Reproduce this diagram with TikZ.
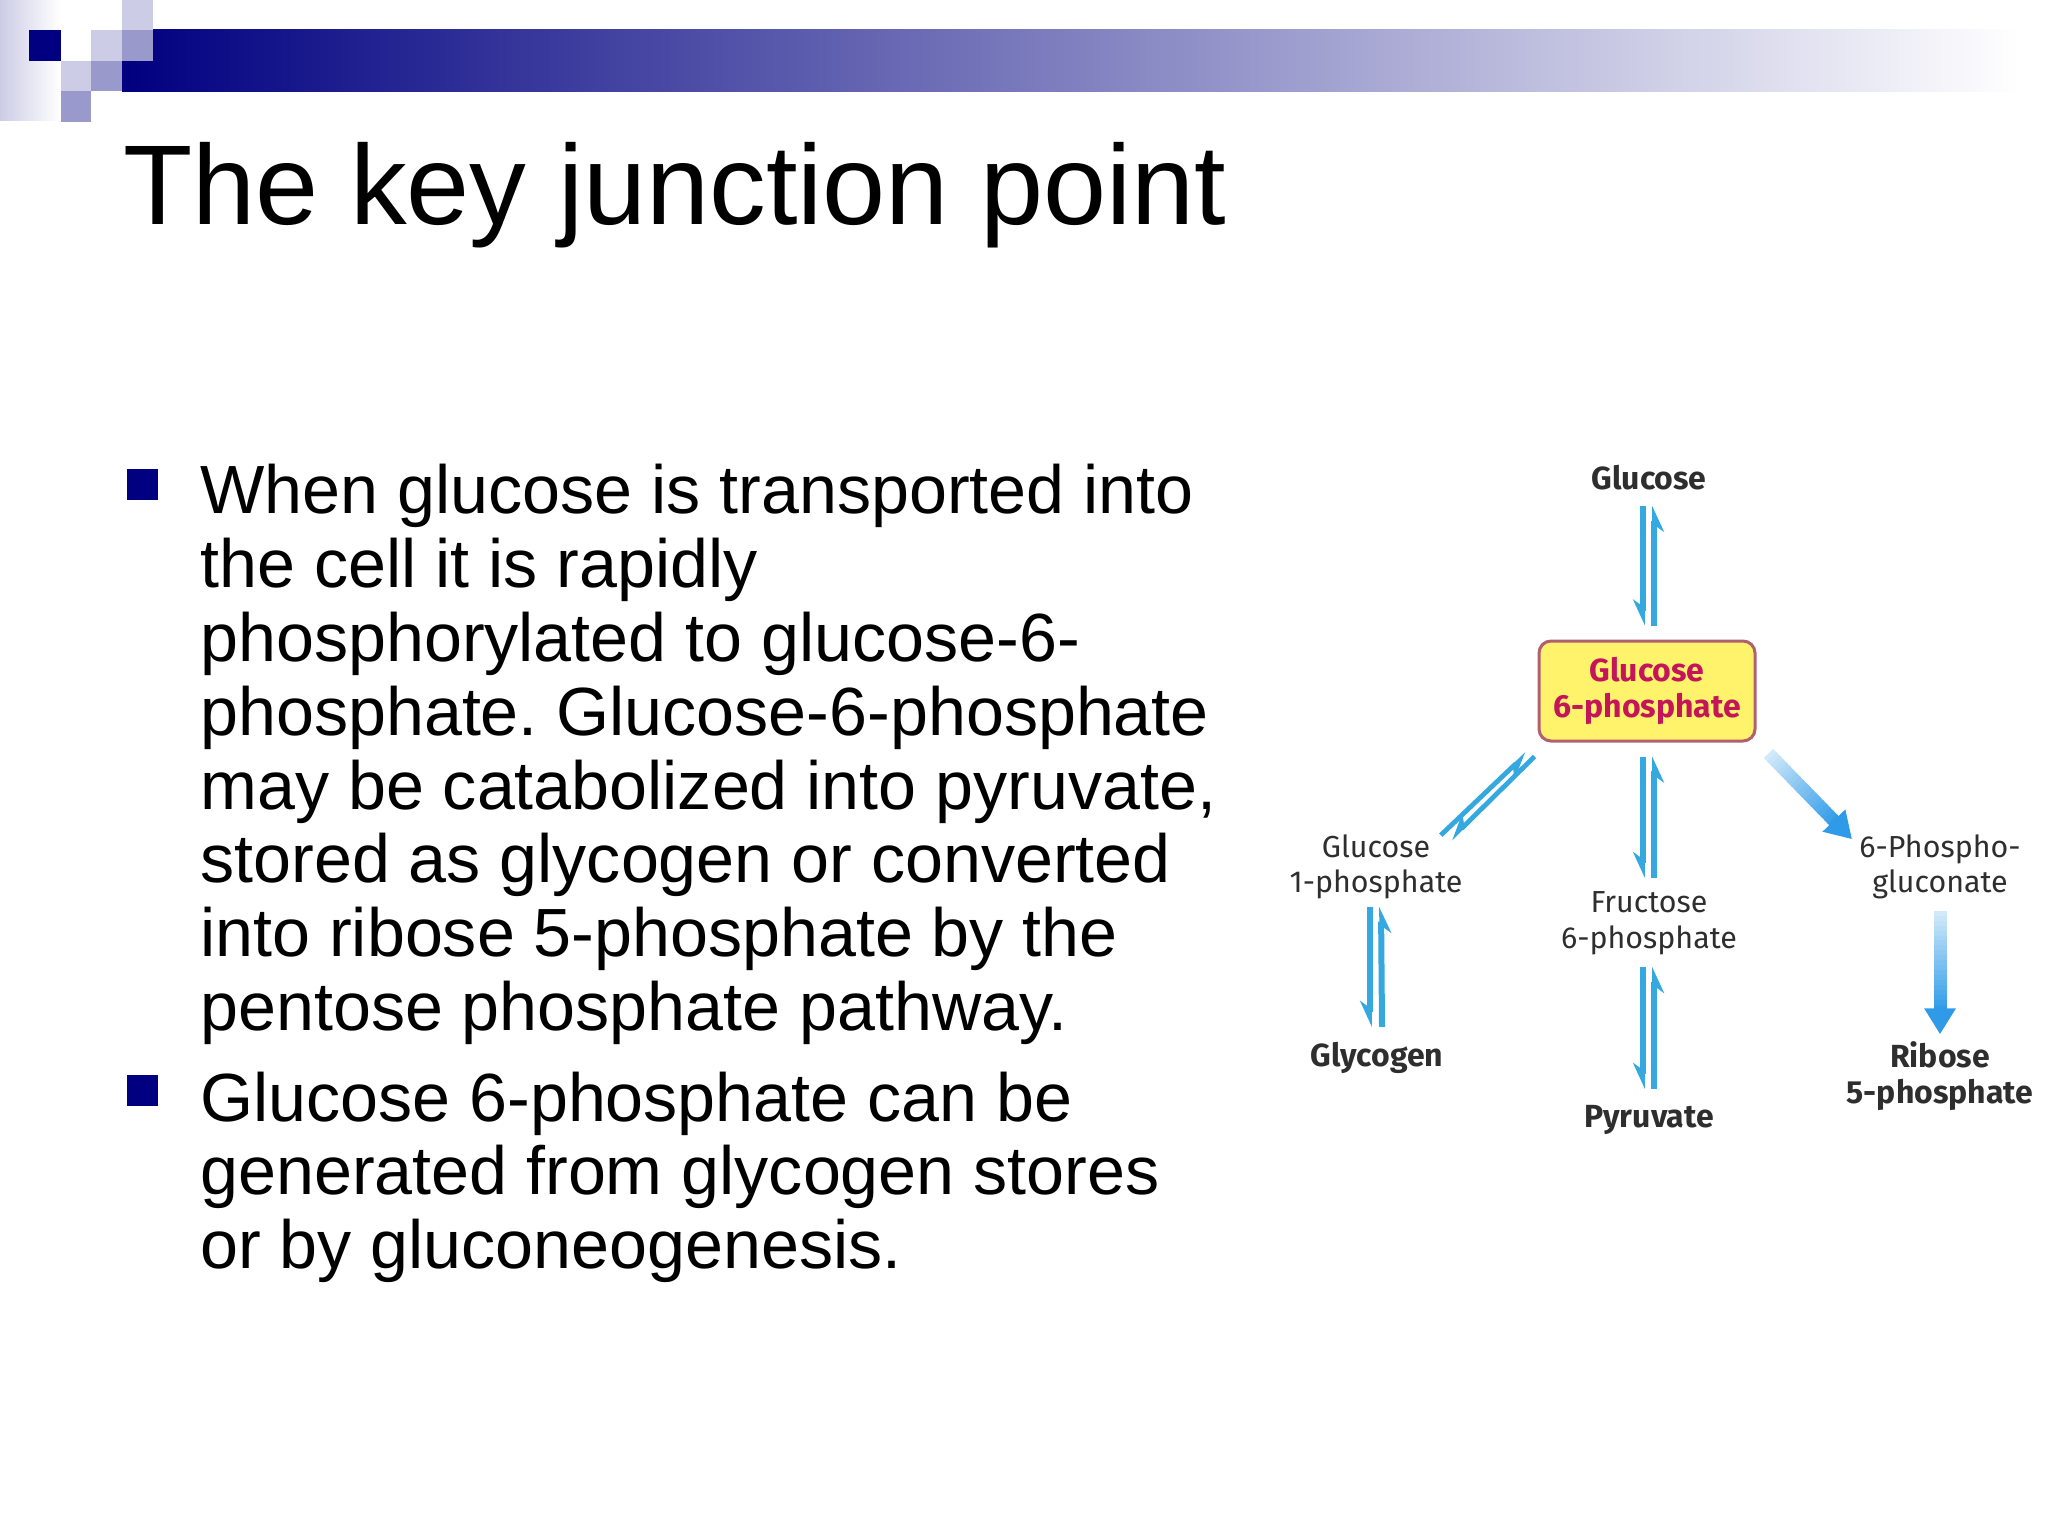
\documentclass[tikz,border=0pt]{standalone}
\usepackage{fontspec}
\setmainfont{Liberation Sans}
\newfontfamily\labelfont{Fira Sans}
\usetikzlibrary{arrows.meta,calc}
\definecolor{bandnavy}{HTML}{000080}
\definecolor{bandmid}{HTML}{9999CC}
\definecolor{bandlight}{HTML}{CCCCE6}
\definecolor{flowblue}{HTML}{35A8E0}
\definecolor{fatblue}{HTML}{2F9BE8}
\definecolor{boxyellow}{HTML}{FFF36B}
\definecolor{boxrim}{HTML}{B0606E}
\definecolor{boxtext}{HTML}{C4145A}
\tikzset{
	slidetext/.style={inner sep=0pt,align=left,font=\frenchspacing\fontsize{34.1}{36.9}\selectfont},
	metab/.style={inner sep=0pt,align=center,text=black!82,font=\labelfont\fontsize{15.2}{17.8}\selectfont},
	metabbold/.style={metab,font=\labelfont\bfseries\fontsize{16}{17.8}\selectfont},
	halfflow/.style={draw=flowblue,line width=3pt,-{Stealth[harpoon,swap,length=11pt,width=10pt]}},
	halfthin/.style={halfflow,line width=2.4pt},
	fatseg/.style={line width=6.5pt},
	fathead/.style={draw=fatblue,line width=6.5pt,-{Triangle[length=13pt,width=15pt]}}
}
\begin{document}
\begin{tikzpicture}[x=0.5pt,y=-0.5pt]
	\useasboundingbox (0,0) rectangle (2048,1536);
	\shade[left color=bandlight,right color=white] (0,0) rectangle (60,120);
	\shade[left color=bandnavy,right color=white] (122,30) rectangle (2020,92);
	\fill[bandnavy] (29,30) rectangle (61,61);
	\fill[bandlight] (122,0) rectangle (153,30);
	\fill[bandlight] (91,30) rectangle (122,61);
	\fill[bandmid] (122,30) rectangle (153,61);
	\fill[bandlight] (61,61) rectangle (91,91);
	\fill[bandmid] (91,61) rectangle (122,91);
	\fill[bandmid] (61,91) rectangle (91,122);
	\fill[bandnavy] (127,469) rectangle (158,500);
	\fill[bandnavy] (127,1075) rectangle (158,1106);

	\node(title)[inner sep=0pt,anchor=base west,font=\fontsize{56.7}{60}\selectfont] at (123,224){The key junction point};
	\node(para1)[slidetext,anchor=base west] at (200,1030.4){When glucose is transported into\\the cell it is rapidly\\phosphorylated to glucose-6-\\phosphate. Glucose-6-phosphate\\may be catabolized into pyruvate,\\stored as glycogen or converted\\into ribose 5-phosphate by the\\pentose phosphate pathway.};
	\node(para2)[slidetext,anchor=base west] at (200,1268.6){Glucose 6-phosphate can be\\generated from glycogen stores\\or by gluconeogenesis.};

	\node(glc)[metabbold] at (1649,478){Glucose};
	\node(g6p)[metabbold,draw=boxrim,line width=1.5pt,fill=boxyellow,rounded corners=6pt,text=boxtext,minimum width=108pt,minimum height=50pt] at (1647,691){Glucose\\6-phosphate};
	\node(g1p)[metab] at (1376,867){Glucose\\1-phosphate};
	\node(glg)[metabbold] at (1377,1058){Glycogen};
	\node(f6p)[metab] at (1649,923){Fructose\\6-phosphate};
	\node(pyr)[metabbold] at (1649,1120){Pyruvate};
	\node(pgl)[metab] at (1940,867){6-Phospho-\\gluconate};
	\node(r5p)[metabbold] at (1940,1076){Ribose\\5-phosphate};

	\draw[halfflow] ([xshift=-3pt,yshift=-7.5pt]glc.south) -- ([xshift=-2pt,yshift=7pt]g6p.north);
	\draw[halfflow] ([xshift=3.5pt,yshift=7pt]g6p.north) -- ([xshift=2.5pt,yshift=-7.5pt]glc.south);
	\draw[halfflow] ([xshift=-2pt,yshift=-7pt]g6p.south) -- ([xshift=-3pt,yshift=6.5pt]f6p.north);
	\draw[halfflow] ([xshift=2.5pt,yshift=6.5pt]f6p.north) -- ([xshift=3.5pt,yshift=-7pt]g6p.south);
	\draw[halfflow] ([xshift=-3pt,yshift=-6pt]f6p.south) -- ([xshift=-3pt,yshift=8pt]pyr.north);
	\draw[halfflow] ([xshift=2.5pt,yshift=8pt]pyr.north) -- ([xshift=2.5pt,yshift=-6pt]f6p.south);
	\draw[halfflow] ([xshift=-3pt,yshift=-3.5pt]g1p.south) -- ([xshift=-3.5pt,yshift=7.5pt]glg.north);
	\draw[halfflow] ([xshift=2.5pt,yshift=7.5pt]glg.north) -- ([xshift=2.5pt,yshift=-3.5pt]g1p.south);
	\draw[halfthin] ([shift={(-11pt,-0.5pt)}]g1p.north east) -- ([shift={(-5.5pt,-5.5pt)}]g6p.south west);
	\draw[halfthin] ([shift={(-1.5pt,-7pt)}]g6p.south west) -- ([shift={(-6pt,-2.5pt)}]g1p.north east);

	\coordinate(fat1s) at ([shift={(6pt,-5.5pt)}]g6p.south east);
	\coordinate(fat1e) at ([shift={(-3.5pt,-2.5pt)}]pgl.north west);
	\coordinate(fat2s) at ([yshift=-5.5pt]pgl.south);
	\coordinate(fat2e) at ([yshift=3.5pt]r5p.north);
	\foreach \from/\to in {fat1s/fat1e,fat2s/fat2e}{
		\foreach \segm in {0,...,19}
			\draw[fatseg,draw=fatblue!\the\numexpr 22+\segm*4\relax!white]
				($(\from)!{\segm/20*0.8}!(\to)$) -- ($(\from)!{(\segm+1.3)/20*0.8}!(\to)$);
		\draw[fathead] ($(\from)!0.78!(\to)$) -- (\to);
	}
\end{tikzpicture}
\end{document}
